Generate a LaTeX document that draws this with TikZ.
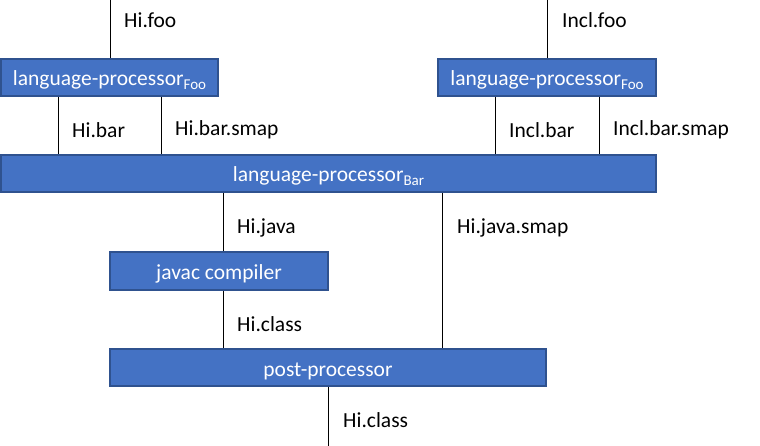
\documentclass[tikz,border=0pt]{standalone}
\usepackage{fontspec}
\usepackage{xcolor}
\usepackage{tikz}
\setmainfont{Carlito}
\definecolor{BoxFill}{HTML}{4472C4}
\definecolor{BoxEdge}{HTML}{2F528F}
\newcommand{\ProcSub}[1]{\raisebox{-4pt}{\fontsize{15}{15}\selectfont #1}}

\begin{document}
\begin{tikzpicture}[
  x=1pt,y=-1pt,
  font=\fontsize{21.5}{24}\selectfont,
  box/.style={draw=BoxEdge,fill=BoxFill,line width=1.6pt,text=white,minimum height=37pt,inner sep=0pt,text height=17pt,text depth=0pt},
  wire/.style={draw=black,line width=0.9pt},
  flow/.style={anchor=west,inner sep=0pt},
]
  \useasboundingbox (0,0) rectangle (760,446);

  \node[box,minimum width=217pt] (fooHi) at (109.5,77.5) {language-processor\ProcSub{Foo}};
  \node[box,minimum width=218pt] (fooIncl) at (547,77.5) {language-processor\ProcSub{Foo}};
  \node[box,minimum width=655pt] (bar) at (328.5,173.5) {language-processor\ProcSub{Bar}};
  \node[box,minimum width=218pt,minimum height=38pt] (javac) at (219,271) {javac compiler};
  \node[box,minimum width=436pt] (post) at (328,367.5) {post-processor};

  % loose ends and line positions
  \coordinate (hifooTop) at (110,0);
  \coordinate (inclfooTop) at (547,0);
  \coordinate (hibar) at (58,0);
  \coordinate (hibarsmap) at (161,0);
  \coordinate (inclbar) at (495,0);
  \coordinate (inclbarsmap) at (599,0);
  \coordinate (hijava) at (223,0);
  \coordinate (hijavasmap) at (442,0);
  \coordinate (hiclassEnd) at (328,446);

  \draw[wire] (hifooTop) -- (hifooTop |- fooHi.north);
  \draw[wire] (inclfooTop) -- (inclfooTop |- fooIncl.north);
  \draw[wire] (hibar |- fooHi.south) -- (hibar |- bar.north);
  \draw[wire] (hibarsmap |- fooHi.south) -- (hibarsmap |- bar.north);
  \draw[wire] (inclbar |- fooIncl.south) -- (inclbar |- bar.north);
  \draw[wire] (inclbarsmap |- fooIncl.south) -- (inclbarsmap |- bar.north);
  \draw[wire] (hijava |- bar.south) -- (hijava |- javac.north);
  \draw[wire] (hijavasmap |- bar.south) -- (hijavasmap |- post.north);
  \draw[wire] (hijava |- javac.south) -- (hijava |- post.north);
  \draw[wire] (hiclassEnd |- post.south) -- (hiclassEnd);

  \node[flow] (lblHiFoo) at (124,20) {Hi.foo};
  \node[flow] (lblInclFoo) at (562,20) {Incl.foo};
  \node[flow] (lblHiBar) at (72,130) {Hi.bar};
  \node[flow] (lblHiBarSmap) at (175,130) {Hi.bar.smap};
  \node[flow] (lblInclBar) at (509,130) {Incl.bar};
  \node[flow] (lblInclBarSmap) at (613,130) {Incl.bar.smap};
  \node[flow] (lblHiJava) at (237,228) {Hi.java};
  \node[flow] (lblHiJavaSmap) at (457,228) {Hi.java.smap};
  \node[flow] (lblHiClass) at (237,324) {Hi.class};
  \node[flow] (lblHiClassOut) at (343,420) {Hi.class};
\end{tikzpicture}
\end{document}
